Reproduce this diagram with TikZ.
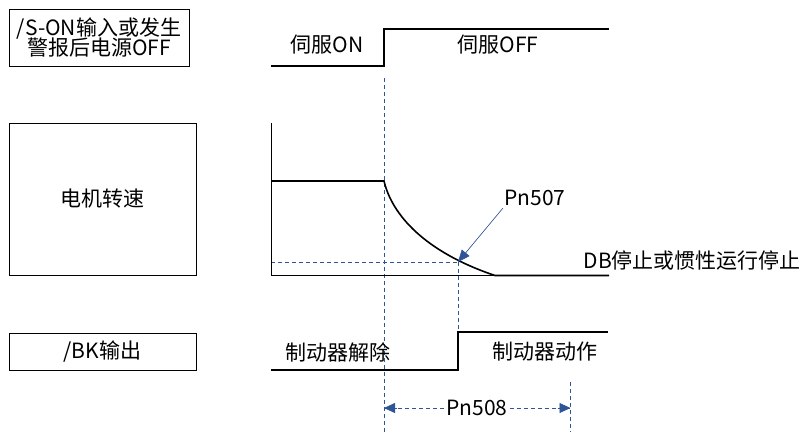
\documentclass[tikz,border=0pt]{standalone}
\usepackage{fontspec}
\setmainfont{Noto Sans CJK SC}
\usetikzlibrary{arrows.meta}
\definecolor{guide}{HTML}{2F5597}
\begin{document}
\begin{tikzpicture}[x=1pt,y=-1pt,
  lbox/.style={draw=black,line width=0.8pt,inner sep=0pt,align=center,font=\fontsize{21}{23}\selectfont},
  lbl/.style={inner sep=0pt,font=\fontsize{21}{23}\selectfont},
  sig/.style={line width=1.6pt,line join=miter},
  thin/.style={line width=0.8pt},
  guideline/.style={draw=guide,line width=0.8pt,dash pattern=on 4pt off 3pt},
  tri/.style={-{Triangle[length=12pt,width=10pt]}},
  tiparrow/.style={draw=guide,fill=guide,line width=0.8pt,solid,-{Triangle[length=11pt,width=10pt]}}
]
\useasboundingbox (0,0) rectangle (805,432);

% left label boxes
\node[lbox,minimum width=180pt,minimum height=57pt] (b1) at (99,37.5)
  {/S-ON输入或发生\\[-3pt]警报后电源OFF};
\node[lbox,minimum width=187pt,minimum height=152pt] (b2) at (102.5,199) {电机转速};
\node[lbox,minimum width=187pt,minimum height=37pt] (b3) at (102.5,351.5) {/BK输出};

% coordinates
\coordinate (s1a) at (271,66);
\coordinate (s1b) at (384,66);
\coordinate (s1c) at (384,29);
\coordinate (s1d) at (609,29);

\coordinate (axt) at (271,123);
\coordinate (axb) at (271,275.5);
\coordinate (v1) at (271,181);
\coordinate (v2) at (384,181);
\coordinate (v3) at (495,275.5);
\coordinate (v4) at (609,275.5);

\coordinate (k1) at (271,370);
\coordinate (k2) at (458,370);
\coordinate (k3) at (458,332);
\coordinate (k4) at (608,332);

\coordinate (g1t) at (384,78);
\coordinate (g1b) at (384,432);
\coordinate (hp) at (458,262);
\coordinate (hl) at (271,262);
\coordinate (g3t) at (570.5,382);
\coordinate (g3b) at (570.5,432);
\coordinate (a1) at (384,408);
\coordinate (a2) at (570.5,408);

% guide lines (behind)
\draw[guideline] (g1t) -- (g1b);
\draw[guideline] (hl) -- (hp);
\draw[guideline] (hp) -- (k3);
\draw[guideline] (g3t) -- (g3b);

% signal 1
\draw[sig] (s1a) -- (s1b) -- (s1c) -- (s1d);

% speed
\draw[thin] (axt) -- (axb) -- (v3);
\draw[sig] (v1) -- (v2) .. controls (392,215) and (425,252) .. (v3) -- (v4);

% brake
\draw[sig] (k1) -- (k2) -- (k3) -- (k4);

% texts
\node[lbl] (on) at (327,45) {伺服ON};
\node[lbl] (off) at (498,45) {伺服OFF};
\node[lbl] (p507) at (535,198) {Pn507};
\node[lbl,anchor=east] (db) at (801,261) {DB停止或惯性运行停止};
\node[lbl] (rel) at (338,352) {制动器解除};
\node[lbl] (act) at (544.5,352) {制动器动作};

% Pn507 arrow
\draw[draw=guide,fill=guide,line width=0.6pt,tri] (503,208) -- (hp);

% Pn508 dimension
\node[lbl,fill=white,inner xsep=2pt] (p508) at (477,408) {Pn508};
\draw[guideline] (a1) -- (p508.west);
\draw[guideline] (p508.east) -- (a2);
\draw[tiparrow] ([xshift=13pt]a1) -- (a1);
\draw[tiparrow] ([xshift=-13pt]a2) -- (a2);
\end{tikzpicture}
\end{document}
